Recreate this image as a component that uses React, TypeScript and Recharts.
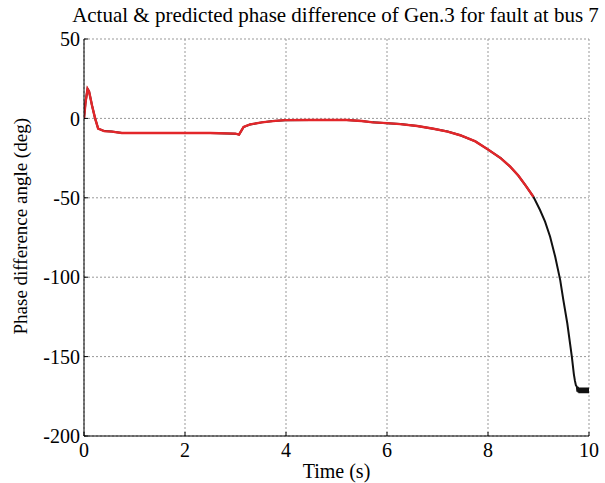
import React from 'react';
import { LineChart, Line, XAxis, YAxis, CartesianGrid } from 'recharts';

const xTicks = [0, 2, 4, 6, 8, 10];
const yTicks = [-200, -150, -100, -50, 0, 50];

const predictedT = [0, 0.03, 0.07, 0.1, 0.16, 0.22, 0.28, 0.4, 0.55, 0.75, 1.0, 1.5, 2.0, 2.5, 3.0, 3.07, 3.16, 3.29, 3.52, 3.74, 3.98, 4.5, 5.2, 5.5, 5.72, 6.0, 6.26, 6.6, 6.92, 7.2, 7.45, 7.75, 8.0, 8.25, 8.44, 8.6, 8.75, 8.9];
const predictedV = [0, 10, 18.6, 17, 8, 0, -6.4, -8, -8.3, -9.2, -9.2, -9.2, -9.2, -9.2, -9.6, -10.2, -5.4, -3.8, -2.5, -1.7, -1.1, -1.0, -1.0, -1.6, -2.5, -3.0, -3.6, -4.8, -6.5, -8.3, -10.6, -14.5, -19.6, -25, -30.4, -36, -42.5, -49.4];

const tailT = [9.03, 9.13, 9.23, 9.33, 9.43, 9.49, 9.57, 9.66, 9.7, 9.72, 9.74, 9.76, 9.77, 9.78, 9.79, 9.8, 9.81, 9.82, 9.83, 9.84, 9.85, 9.86, 9.87, 9.88, 9.89, 9.9, 9.91, 9.92, 9.93, 9.94, 9.95, 9.96, 9.97, 9.98, 9.99, 10.0];
const tailV = [-57.7, -65, -74.5, -87, -101.8, -114, -129, -150, -161, -165, -168, -169, -172, -169, -172.5, -169.5, -173, -169.5, -173, -169.5, -173, -169.5, -173, -169.5, -173, -169.5, -173, -169.5, -173, -169.5, -173, -169.5, -173, -169.5, -173, -170];

const actualT = [...predictedT, ...tailT];
const actualV = [...predictedV, ...tailV];

const actual = actualT.map((t, i) => ({ t, v: actualV[i] }));
const predicted = predictedT.map((t, i) => ({ t, v: predictedV[i] }));

const font = '"Liberation Serif", "Times New Roman", serif';

export default function App() {
  return (
    <div style={{ position: 'absolute', left: 0, top: 0, width: 605, height: 483, background: '#fff', fontFamily: font }}>
      <div style={{ position: 'absolute', left: 0, width: 605, top: 0, textAlign: 'center', paddingLeft: 66, boxSizing: 'border-box', fontSize: 21, lineHeight: '30px', color: '#000', fontFamily: font, whiteSpace: 'nowrap' }}>
        Actual &amp; predicted phase difference of Gen.3 for fault at bus 7
      </div>
      <LineChart width={605} height={483} margin={{ top: 39, right: 16, left: 0, bottom: 0 }}>
        <CartesianGrid stroke="#999" strokeDasharray="2 2" horizontalValues={yTicks} verticalValues={xTicks} />
        <XAxis
          type="number"
          dataKey="t"
          domain={[0, 10]}
          ticks={xTicks}
          allowDataOverflow
          height={47}
          stroke="#000"
          tickSize={-4}
          tickMargin={11}
          tick={{ fill: '#000', fontSize: 20, fontFamily: font }}
          label={{ value: 'Time (s)', position: 'insideBottom', offset: 5, fill: '#000', fontSize: 20, fontFamily: font }}
        />
        <XAxis xAxisId="top" orientation="top" type="number" domain={[0, 10]} ticks={xTicks} height={0} stroke="#000" tick={false} tickSize={-4} />
        <YAxis
          type="number"
          domain={[-200, 50]}
          ticks={yTicks}
          allowDataOverflow
          width={84}
          stroke="#000"
          tickSize={-4}
          tickMargin={8}
          tick={{ fill: '#000', fontSize: 20, fontFamily: font }}
          label={{ value: 'Phase difference angle (deg)', angle: -90, position: 'insideLeft', offset: 20, dy: 97, fill: '#000', fontSize: 19, fontFamily: font }}
        />
        <YAxis yAxisId="right" orientation="right" type="number" domain={[-200, 50]} ticks={yTicks} width={0} stroke="#000" tick={false} tickSize={-4} />
        <Line data={actual} dataKey="v" type="linear" stroke="#111" strokeWidth={2} dot={false} isAnimationActive={false} />
        <Line data={predicted} dataKey="v" type="linear" stroke="#e3262a" strokeWidth={2.4} dot={false} isAnimationActive={false} />
      </LineChart>
    </div>
  );
}
